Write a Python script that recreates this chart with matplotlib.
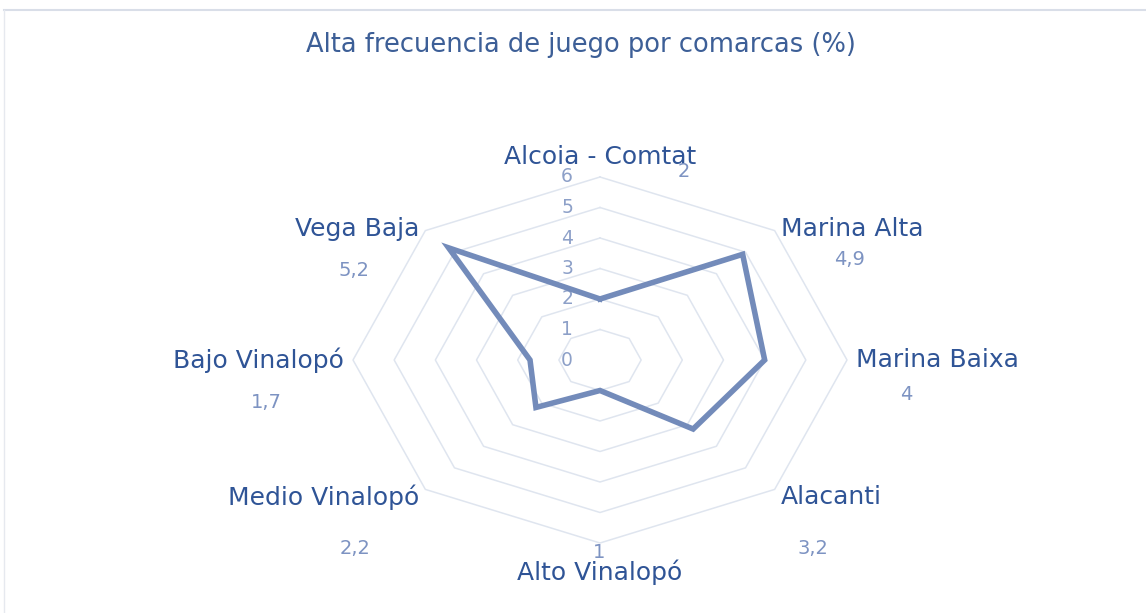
import matplotlib.pyplot as plt
import numpy as np

comarcas = ["Alcoia - Comtat", "Marina Alta", "Marina Baixa", "Alacanti",
            "Alto Vinalopó", "Medio Vinalopó", "Bajo Vinalopó", "Vega Baja"]
valores = [2, 4.9, 4, 3.2, 1, 2.2, 1.7, 5.2]
etiquetas = ["2", "4,9", "4", "3,2", "1", "2,2", "1,7", "5,2"]
anillos = [1, 2, 3, 4, 5, 6]
titulo = "Alta frecuencia de juego por comarcas (%)"

azul_linea = "#738bba"
azul_texto = "#2f5496"
azul_valor = "#7d93c2"
gris_rejilla = "#dfe5ef"
fuente = "DejaVu Sans"

W, H = 1146, 613
fig = plt.figure(figsize=(W / 100, H / 100), dpi=100)
ax = fig.add_axes([0, 0, 1, 1])
ax.axis("off")

# centro en (600, 360) px, 6 unidades = 247 px en x y 183 px en y
cx, cy = 600, 360
sx, sy = 247 / 6, 183 / 6
ax.set_xlim(-cx / sx, (W - cx) / sx)
ax.set_ylim(-(H - cy) / sy, cy / sy)

n = len(comarcas)
ang = np.arange(n) * 2 * np.pi / n
sen, cos = np.sin(ang), np.cos(ang)

# rejilla octogonal
for r in anillos:
    ax.plot(np.append(r * sen, 0), np.append(r * cos, r), color=gris_rejilla, lw=1.1, zorder=1)

# etiquetas del eje radial
for r in [0] + anillos:
    ax.text(-0.8, r, str(r), ha="center", va="center", fontsize=13.5,
            color="#8da0c8", family=fuente, zorder=2)

# serie
v = np.array(valores)
ax.plot(np.append(v * sen, v[0] * sen[0]), np.append(v * cos, v[0] * cos[0]),
        color=azul_linea, lw=4, solid_joinstyle="miter", zorder=3)

# etiquetas de categoría
r_lab = 6.22
desplaz = [(84, -15), (-14, -31), (-41, -34), (-25, -52),
           (-1, 19), (48, -52), (20, -43), (5, -42)]
for i, nombre in enumerate(comarcas):
    x, y = r_lab * sen[i], r_lab * cos[i]
    if abs(sen[i]) < 1e-6:
        ha = "center"
        y = 6.66 if cos[i] > 0 else -6.95
    elif sen[i] > 0:
        ha = "left"
    else:
        ha = "right"
    if abs(sen[i]) > 0.99:
        y = 0.0
    elif abs(sen[i]) > 0.5:
        y = 4.3 if cos[i] > 0 else -4.49
    ax.text(x, y, nombre, ha=ha, va="center", fontsize=18,
            color=azul_texto, family=fuente, zorder=4)
    # centro del texto en píxeles (según el original) para colocar el valor
    px = cx + x * sx
    if ha == "left":
        ancho = {1: 164, 2: 183, 3: 113}[i]
        px += ancho / 2
    elif ha == "right":
        ancho = {5: 224, 6: 195, 7: 139}[i]
        px -= ancho / 2
    py = cy - y * sy
    dx, dy = desplaz[i]
    ax.text((px + dx - cx) / sx, (cy - (py - dy)) / sy, etiquetas[i],
            ha="center", va="center", fontsize=14, color=azul_valor,
            family=fuente, zorder=4)

fig.text(581 / W, 1 - 45 / H, titulo, ha="center", va="center", fontsize=18.5,
         color="#3d5f97", family=fuente)

# borde del área del gráfico
fig.add_artist(plt.Line2D([4 / W, 1], [1 - 10 / H, 1 - 10 / H], color="#d9dee8", lw=1.5))
fig.add_artist(plt.Line2D([4 / W, 4 / W], [0, 1 - 10 / H], color="#e6e9ef", lw=1.0))

fig.savefig("out.png", dpi=100, facecolor="white")
